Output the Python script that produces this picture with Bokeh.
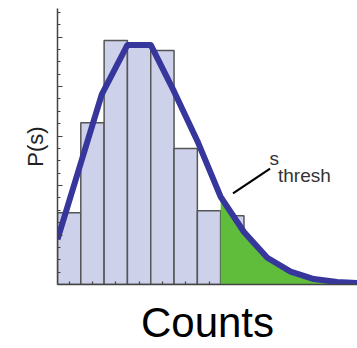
from bokeh.plotting import figure
from bokeh.models import Range1d, FixedTicker, CustomJSTickFormatter
from bokeh.core.properties import value
from bokeh.embed import file_html
from bokeh.resources import INLINE

# Histogram bins (unit width, starting at 0)
bin_left = [0, 1, 2, 3, 4, 5, 6, 7]
bin_height = [1.45, 3.27, 4.93, 4.84, 4.73, 2.75, 1.49, 1.39]

# Fitted curve P(s)
curve_x = [0, 1.9, 3, 4, 5, 6, 7, 8, 9, 10, 11, 12, 12.9]
curve_y = [0.91, 3.84, 4.84, 4.84, 3.9, 2.9, 1.77, 1.06, 0.54, 0.26, 0.11, 0.05, 0.03]

thresh_x = 7  # s_thresh position

y_major = [0, 1, 2, 3, 4, 5]
y_minor = [i * 0.25 for i in range(0, 23) if i % 4 != 0]
x_ticks = [0.5, 1.5, 2.5, 3.5, 4.5, 5.5, 6.5]

p = figure(width=357, height=348, output_backend="svg", toolbar_location=None,
           x_range=Range1d(0, 12.87), y_range=Range1d(0, 5.576),
           min_border_left=57, min_border_right=0, min_border_top=8,
           min_border_bottom=64)
p.outline_line_color = None
p.xgrid.visible = False
p.ygrid.visible = False
p.background_fill_color = "white"
p.border_fill_color = "white"

bin_right = [b + 1 for b in bin_left]
p.quad(left=bin_left, right=bin_right, bottom=0, top=bin_height,
       fill_color="#cdd1ea", line_color="#555555", line_width=1.5)

gx = [x for x in curve_x if x >= thresh_x]
gy = [y for x, y in zip(curve_x, curve_y) if x >= thresh_x]
p.varea(x=gx, y1=0, y2=gy, fill_color="#5fbd3b")

p.line(curve_x, curve_y, line_width=6, line_color="#37369c", line_join="round")

# annotation
p.segment(x0=[7.53], y0=[1.84], x1=[9.12], y1=[2.34], line_color="black", line_width=2.2)
p.text(x=[9.1], y=[2.55], text=["s"], text_font=value("Liberation Sans"),
       text_font_size="19px", text_color="#333333", text_baseline="alphabetic")
p.text(x=[9.46], y=[2.2], text=["thresh"], text_font=value("Liberation Sans"),
       text_font_size="19px", text_color="#333333", text_baseline="alphabetic")

# axes
blank = CustomJSTickFormatter(code="return ''")
for ax in (p.xaxis[0], p.yaxis[0]):
    ax.axis_line_color = "#444444"
    ax.axis_line_width = 1.5
    ax.major_tick_line_color = "#444444"
    ax.minor_tick_line_color = "#444444"
    ax.major_tick_line_width = 1.2
    ax.minor_tick_line_width = 1.2
    ax.major_tick_out = 0
    ax.minor_tick_out = 0
    ax.formatter = blank
    ax.major_label_standoff = 0
    ax.axis_label_text_font = "Liberation Sans"
    ax.axis_label_text_font_style = "normal"

p.yaxis.ticker = FixedTicker(ticks=y_major, minor_ticks=y_minor)
p.yaxis.major_tick_in = 5
p.yaxis.minor_tick_in = 3
p.yaxis.axis_label = "P(s)"
p.yaxis.axis_label_text_font_size = "22px"
p.yaxis.axis_label_text_color = "#222222"
p.yaxis.axis_label_standoff = 10

p.xaxis.ticker = FixedTicker(ticks=x_ticks, minor_ticks=[])
p.xaxis.major_tick_in = 3
p.xaxis.axis_label = "Counts"
p.xaxis.axis_label_text_font_size = "42px"
p.xaxis.axis_label_text_color = "black"
p.xaxis.axis_label_text_line_height = 1.0
p.xaxis.axis_label_text_baseline = "middle"
p.xaxis.axis_label_standoff = 14

open("out.html", "w").write(file_html(p, INLINE))
